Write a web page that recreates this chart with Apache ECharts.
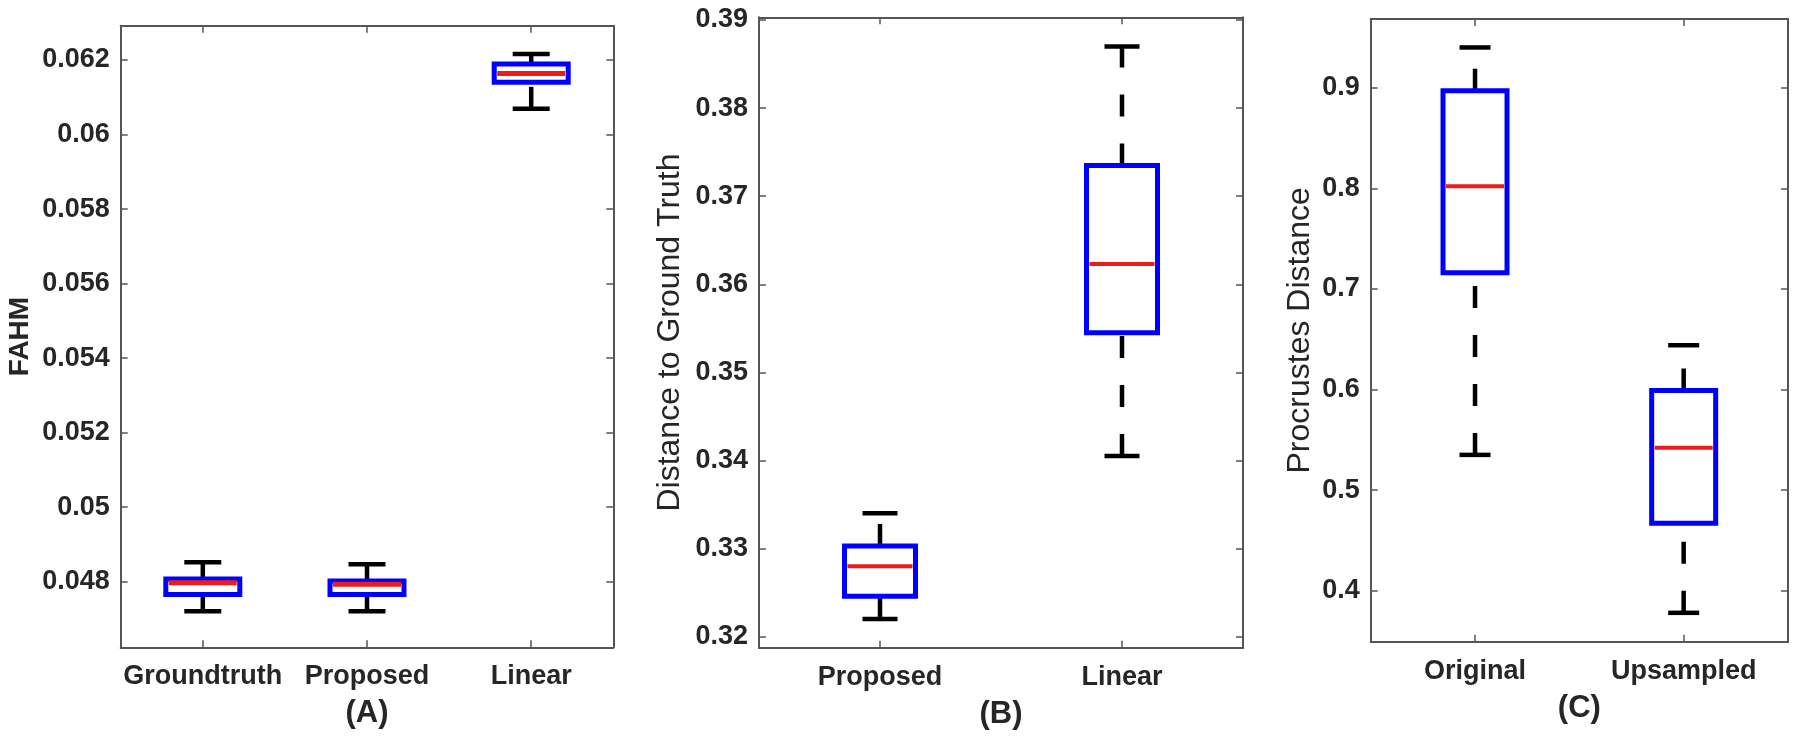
<!DOCTYPE html>
<html>
<head>
<meta charset="utf-8">
<script src="https://cdn.jsdelivr.net/npm/echarts@6/dist/echarts.min.js"></script>
<style>
html,body{margin:0;padding:0;background:#fff;}
#chart{width:1800px;height:739px;}
</style>
</head>
<body>
<div id="chart"></div>
<script>
// ---------- Panel A ----------
const catA = ['Groundtruth', 'Proposed', 'Linear'];
const lowA  = [0.04721, 0.04721, 0.06069];
const q1A   = [0.04766, 0.04766, 0.06140];
const medA  = [0.04797, 0.04793, 0.06164];
const q3A   = [0.04807, 0.04802, 0.06189];
const highA = [0.04852, 0.04847, 0.06216];
const ticksA = [0.048, 0.05, 0.052, 0.054, 0.056, 0.058, 0.06, 0.062];

// ---------- Panel B ----------
const catB = ['Proposed', 'Linear'];
const lowB  = [0.3220, 0.3405];
const q1B   = [0.3246, 0.3545];
const medB  = [0.3280, 0.3623];
const q3B   = [0.3303, 0.3735];
const highB = [0.3340, 0.3870];
const ticksB = [0.32, 0.33, 0.34, 0.35, 0.36, 0.37, 0.38, 0.39];

// ---------- Panel C ----------
const catC = ['Original', 'Upsampled'];
const lowC  = [0.535, 0.378];
const q1C   = [0.716, 0.467];
const medC  = [0.802, 0.542];
const q3C   = [0.897, 0.599];
const highC = [0.940, 0.644];
const ticksC = [0.4, 0.5, 0.6, 0.7, 0.8, 0.9];

const FONT = '"Liberation Sans", Arial, sans-serif';
const TXT = '#262626';
const AX = '#555555';

function rows(cat, lo, q1, md, q3, hi) {
  return cat.map((c, i) => [i, lo[i], q1[i], md[i], q3[i], hi[i]]);
}

function makeRender(cfg) {
  return function (params, api) {
    const x = api.value(0);
    const lo = api.coord([x, api.value(1)]);
    const q1 = api.coord([x, api.value(2)]);
    const md = api.coord([x, api.value(3)]);
    const q3 = api.coord([x, api.value(4)]);
    const hi = api.coord([x, api.value(5)]);
    const cx = lo[0];
    const hw = cfg.box / 2, cw = cfg.cap / 2;
    const wDash = {stroke: '#000', lineWidth: 4.5, lineDash: [22, 27], fill: null};
    const wSolid = {stroke: '#000', lineWidth: 4.5, fill: null};
    return {
      type: 'group',
      children: [
        {type: 'line', shape: {x1: cx, y1: q3[1], x2: cx, y2: hi[1]}, style: wDash},
        {type: 'line', shape: {x1: cx, y1: lo[1], x2: cx, y2: q1[1]}, style: wDash},
        {type: 'line', shape: {x1: cx - cw, y1: hi[1], x2: cx + cw, y2: hi[1]}, style: wSolid},
        {type: 'line', shape: {x1: cx - cw, y1: lo[1], x2: cx + cw, y2: lo[1]}, style: wSolid},
        {type: 'rect', shape: {x: cx - hw, y: q3[1], width: 2 * hw, height: q1[1] - q3[1]},
          style: {fill: '#fff', stroke: '#0000ff', lineWidth: 5}},
        {type: 'line', shape: {x1: cx - hw + 3, y1: md[1], x2: cx + hw - 3, y2: md[1]},
          style: {stroke: '#ee1b1b', lineWidth: cfg.med}}
      ]
    };
  };
}

const grids = [
  {left: 120.7, top: 25.7, width: 492.6, height: 621.6},
  {left: 759, top: 17.3, width: 484, height: 630.4},
  {left: 1370.7, top: 19, width: 417.3, height: 622.7}
];
const yr = [
  {min: 0.04624, max: 0.06292, ticks: ticksA, name: 'FAHM', bold: true, size: 28, gap: 86},
  {min: 0.31875, max: 0.39031, ticks: ticksB, name: 'Distance to Ground Truth', bold: false, size: 32, gap: 73},
  {min: 0.3493, max: 0.96829, ticks: ticksC, name: 'Procrustes Distance', bold: false, size: 32, gap: 55}
];
const cats = [catA, catB, catC];
const subs = ['(A)', '(B)', '(C)'];

const xAxis = [], yAxis = [];
for (let i = 0; i < 3; i++) {
  xAxis.push({
    type: 'category', gridIndex: i, data: cats[i], position: 'bottom',
    name: subs[i], nameLocation: 'middle', nameGap: 51,
    nameTextStyle: {fontFamily: FONT, fontWeight: 'bold', fontSize: 31, color: TXT},
    axisLine: {show: true, onZero: false, lineStyle: {color: AX, width: 2}},
    axisTick: {show: true, inside: true, alignWithLabel: true, interval: 0, length: 7, lineStyle: {color: AX, width: 1.5}},
    axisLabel: {show: true, interval: 0, margin: 16, fontFamily: FONT, fontWeight: 'bold', fontSize: 27, color: TXT},
    splitLine: {show: false}
  });
  xAxis.push({
    type: 'category', gridIndex: i, data: cats[i], position: 'top',
    axisLine: {show: true, onZero: false, lineStyle: {color: AX, width: 2}},
    axisTick: {show: true, inside: true, alignWithLabel: true, interval: 0, length: 7, lineStyle: {color: AX, width: 1.5}},
    axisLabel: {show: false},
    splitLine: {show: false}
  });
  yAxis.push({
    type: 'value', gridIndex: i, min: yr[i].min, max: yr[i].max, position: 'left',
    name: yr[i].name, nameLocation: 'middle', nameGap: yr[i].gap,
    nameTextStyle: {fontFamily: FONT, fontWeight: yr[i].bold ? 'bold' : 'normal', fontSize: yr[i].size, color: TXT},
    axisLine: {show: true, onZero: false, lineStyle: {color: AX, width: 2}},
    axisTick: {show: true, inside: true, length: 7, customValues: yr[i].ticks, lineStyle: {color: AX, width: 1.5}},
    axisLabel: {show: true, margin: 11, customValues: yr[i].ticks, fontFamily: FONT, fontWeight: 'bold', fontSize: 27, color: TXT},
    splitLine: {show: false}
  });
  yAxis.push({
    type: 'value', gridIndex: i, min: yr[i].min, max: yr[i].max, position: 'right',
    axisLine: {show: true, onZero: false, lineStyle: {color: AX, width: 2}},
    axisTick: {show: true, inside: true, length: 7, customValues: yr[i].ticks, lineStyle: {color: AX, width: 1.5}},
    axisLabel: {show: false, customValues: yr[i].ticks},
    splitLine: {show: false}
  });
}

const series = [
  {type: 'custom', xAxisIndex: 0, yAxisIndex: 0, data: rows(catA, lowA, q1A, medA, q3A, highA),
   encode: {x: 0, y: [1, 2, 3, 4, 5]}, renderItem: makeRender({box: 74, cap: 37, med: 5})},
  {type: 'custom', xAxisIndex: 2, yAxisIndex: 2, data: rows(catB, lowB, q1B, medB, q3B, highB),
   encode: {x: 0, y: [1, 2, 3, 4, 5]}, renderItem: makeRender({box: 71, cap: 35, med: 4})},
  {type: 'custom', xAxisIndex: 4, yAxisIndex: 4, data: rows(catC, lowC, q1C, medC, q3C, highC),
   encode: {x: 0, y: [1, 2, 3, 4, 5]}, renderItem: makeRender({box: 64, cap: 31, med: 4})}
];

const chart = echarts.init(document.getElementById('chart'), null, {renderer: 'canvas'});
chart.setOption({
  animation: false,
  backgroundColor: '#ffffff',
  grid: grids,
  xAxis: xAxis,
  yAxis: yAxis,
  series: series
});
</script>
</body>
</html>
